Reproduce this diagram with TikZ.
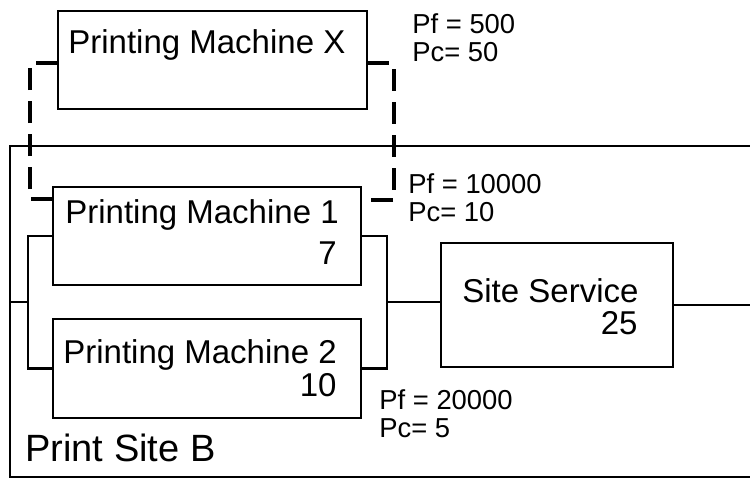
\documentclass[tikz,border=0pt]{standalone}
\usepackage{fontspec}
\setmainfont{Liberation Sans}

\tikzset{
	machine/.style = {draw, line width=1.1pt, inner sep=0pt, outer sep=0pt},
	wire/.style = {line width=1.1pt},
	dashlink/.style = {line width=2.4pt, dash pattern=on 11pt off 5.5pt},
	title/.style = {font=\fontsize{16.5}{20}\selectfont, inner sep=0pt},
	prob/.style = {font=\fontsize{13.7}{14}\selectfont, inner sep=0pt, anchor=base west},
}

\begin{document}
\begin{tikzpicture}[x=0.5pt, y=-0.5pt]
			\useasboundingbox (0,0) rectangle (750,479);

			% boxes
			\node[machine, minimum width=385pt, minimum height=165.5pt] (siteb) at (395,311.5) {};
			\node[machine, minimum width=154.5pt, minimum height=49pt] (pmx) at (212.5,60) {};
			\node[machine, minimum width=154pt, minimum height=49pt] (pm1) at (207,236) {};
			\node[machine, minimum width=154pt, minimum height=49.5pt] (pm2) at (207,368.5) {};
			\node[machine, minimum width=116pt, minimum height=62pt] (svc) at (557,305) {};

			% texts in the boxes
			\node[title, anchor=base west] (pmx-t) at (68,53) {Printing Machine X};
			\node[title, anchor=base west] (pm1-t) at (65,223) {Printing Machine 1};
			\node[title, anchor=base east] (pm1-v) at (337,264) {7};
			\node[title, anchor=base west] (pm2-t) at (63,363) {Printing Machine 2};
			\node[title, anchor=base east] (pm2-v) at (337,396) {10};
			\node[title, anchor=base west] (svc-t) at (462,302) {Site Service};
			\node[title, anchor=base east] (svc-v) at (638,334) {25};
			\node[inner sep=0pt, anchor=base west, font=\fontsize{19}{23}\selectfont] (siteb-t) at (25,461) {Print Site B};

			% failure / cost values
			\node[prob] (pmx-p) at (412,33) {\begin{tabular}[t]{@{}l@{}}Pf = 500\\Pc= 50\end{tabular}};
			\node[prob] (pm1-p) at (408,193) {\begin{tabular}[t]{@{}l@{}}Pf = 10000\\Pc= 10\end{tabular}};
			\node[prob] (pm2-p) at (379,409) {\begin{tabular}[t]{@{}l@{}}Pf = 20000\\Pc= 5\end{tabular}};

			% parallel machines, then the site service
			\coordinate (lj) at (28,302);
			\coordinate (rj) at (387,302);
			\draw[wire] (pm1.west) -- (pm1.west -| lj) -- (pm2.west -| lj) -- (pm2.west);
			\draw[wire] (siteb.west |- lj) -- (lj);
			\draw[wire] (pm1.east) -- (pm1.east -| rj) -- (pm2.east -| rj) -- (pm2.east);
			\draw[wire] (rj) -- (rj -| svc.west);
			\draw[wire] (svc.east) -- (svc.east -| siteb.east);

			% spare machine
			\coordinate (xl) at (30,63);
			\coordinate (xr) at (394,63);
			\coordinate (pm1l) at ([yshift=-6pt]pm1.north west);
			\coordinate (pm1r) at ([yshift=-6.5pt]pm1.north east);
			\draw[dashlink] (pm1l) -| (xl) -- (xl -| pmx.west);
			\draw[dashlink] (pmx.east |- xr) -- (xr) |- (pm1r);
		\end{tikzpicture}
\end{document}
